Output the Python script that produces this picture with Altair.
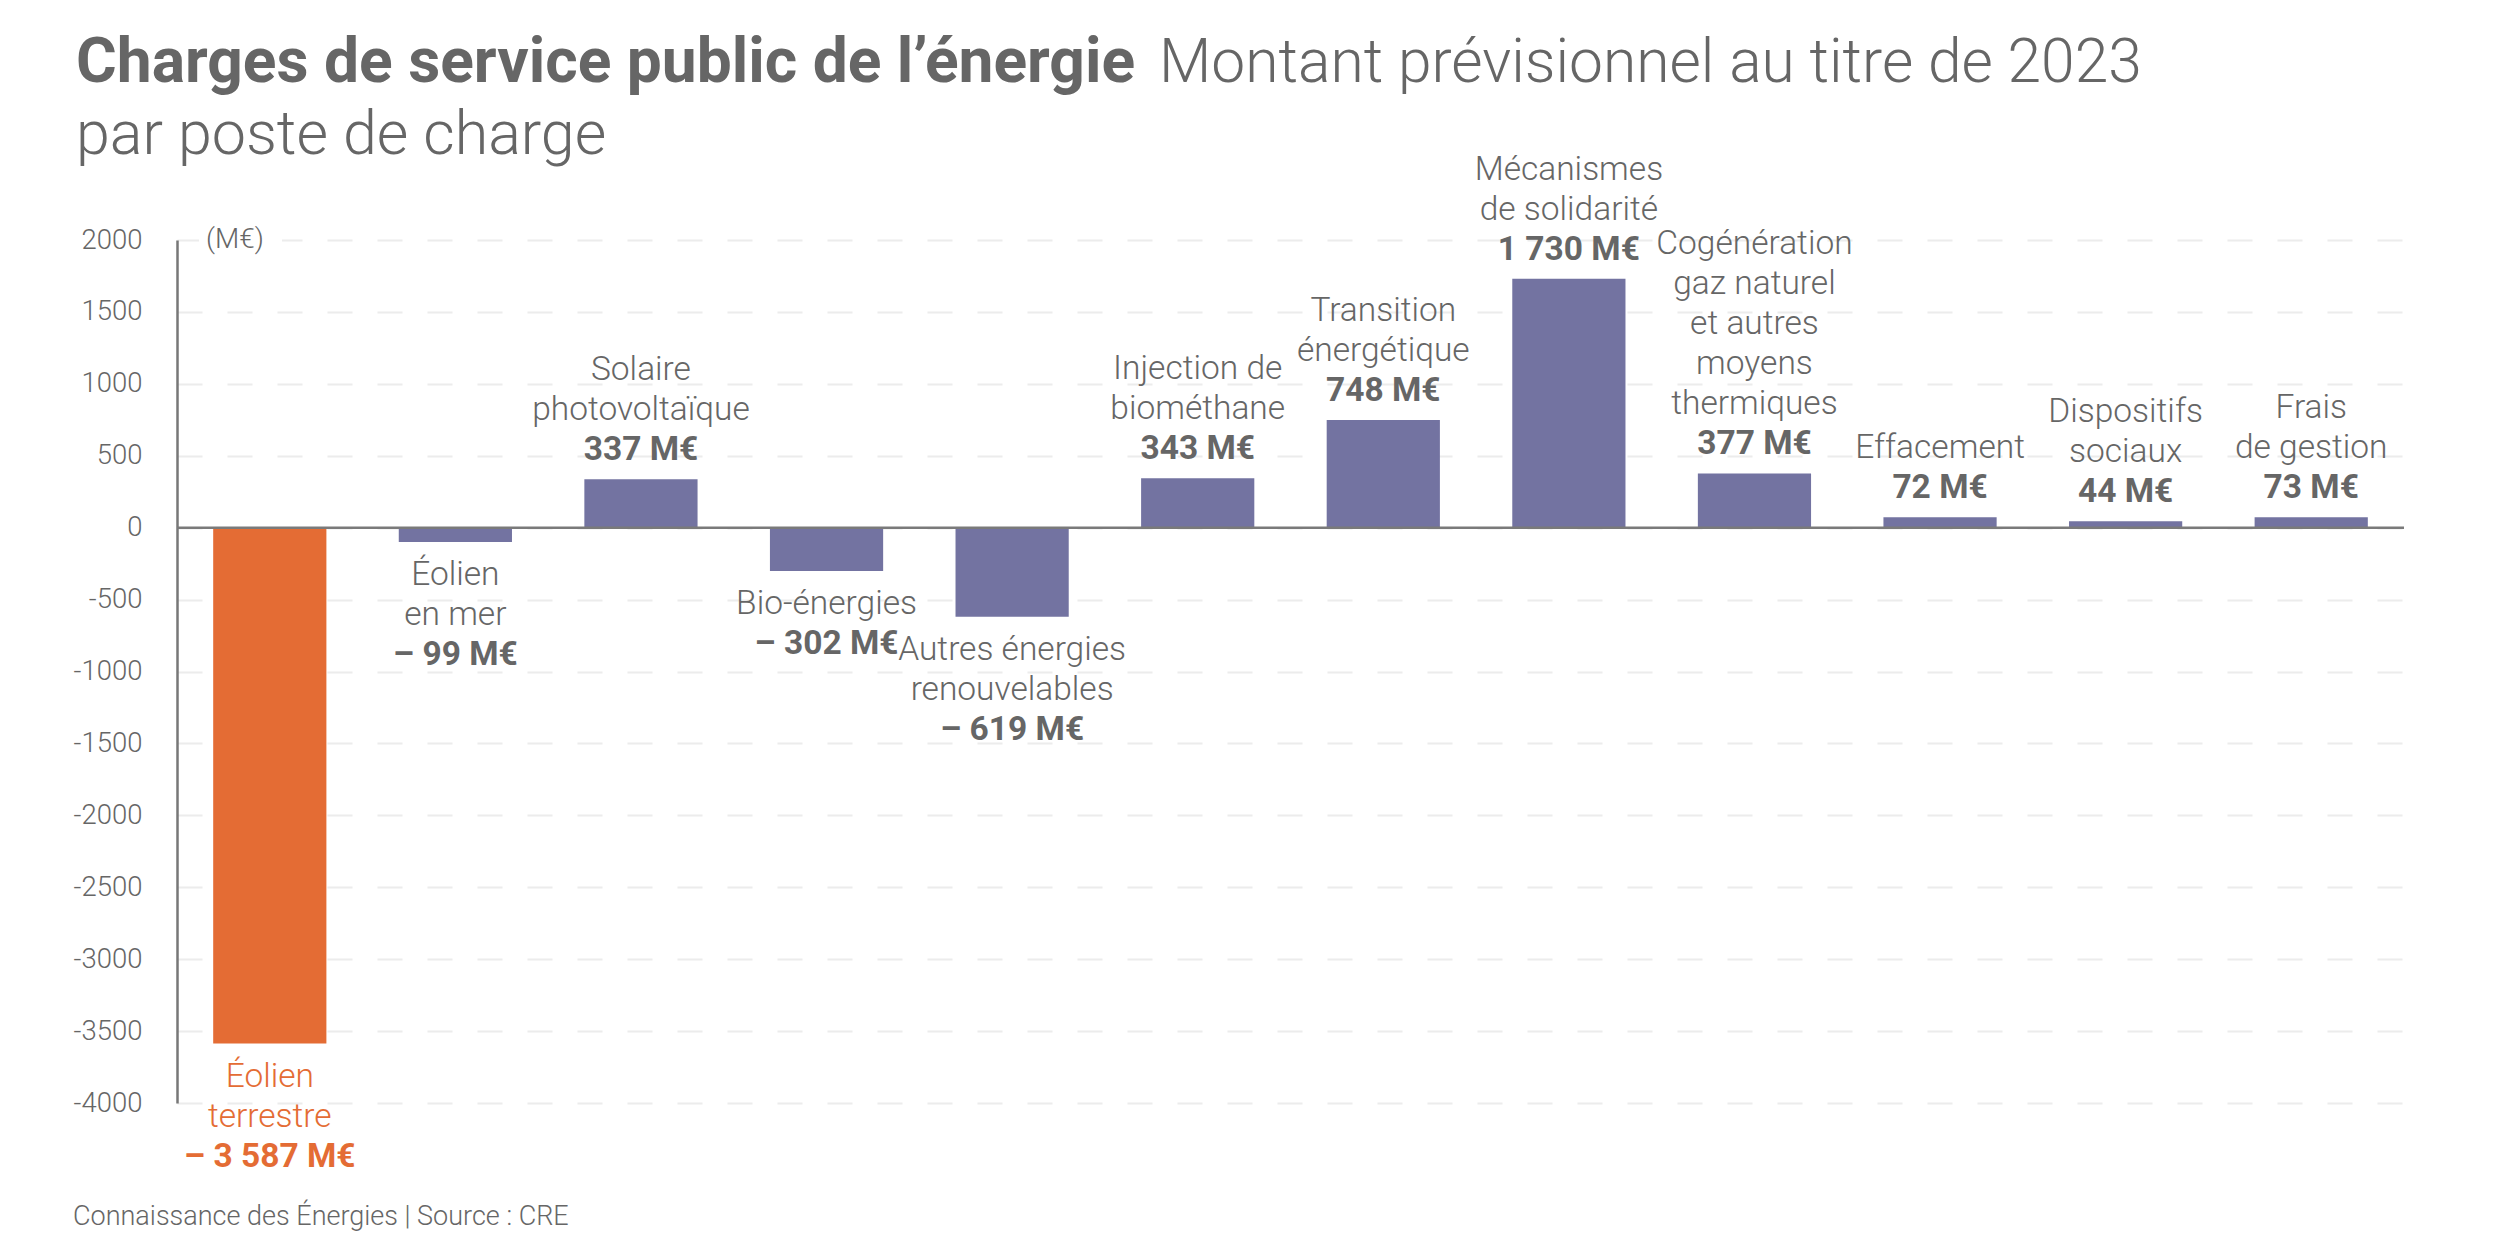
import altair as alt
import pandas as pd

# ---- data ----
categories = [
    "Éolien terrestre", "Éolien en mer", "Solaire photovoltaïque", "Bio-énergies",
    "Autres énergies renouvelables", "Injection de biométhane", "Transition énergétique",
    "Mécanismes de solidarité", "Cogénération gaz naturel et autres moyens thermiques",
    "Effacement", "Dispositifs sociaux", "Frais de gestion",
]
label_lines = [
    "Éolien\nterrestre", "Éolien\nen mer", "Solaire\nphotovoltaïque", "Bio-énergies",
    "Autres énergies\nrenouvelables", "Injection de\nbiométhane", "Transition\nénergétique",
    "Mécanismes\nde solidarité", "Cogénération\ngaz naturel\net autres\nmoyens\nthermiques",
    "Effacement", "Dispositifs\nsociaux", "Frais\nde gestion",
]
values = [-3587, -99, 337, -302, -619, 343, 748, 1730, 377, 72, 44, 73]
value_labels = [
    "– 3 587 M€", "– 99 M€", "337 M€", "– 302 M€", "– 619 M€", "343 M€",
    "748 M€", "1 730 M€", "377 M€", "72 M€", "44 M€", "73 M€",
]
groups = ["highlight"] + ["other"] * 11
y_ticks = [-4000, -3500, -3000, -2500, -2000, -1500, -1000, -500, 0, 500, 1000, 1500, 2000]

title_bold = "Charges de service public de l’énergie"
title_light = "Montant prévisionnel au titre de 2023"
title_line2 = "par poste de charge"
unit_text = "(M€)"
footer_text = "Connaissance des Énergies | Source : CRE"

nlines = [s.count("\n") + 1 for s in label_lines]
df = pd.DataFrame({
    "cat": categories,
    "label": label_lines,
    "value": values,
    "vlabel": value_labels,
    "group": groups,
    "nlines": nlines,
})

ORANGE = "#e46c34"
PURPLE = "#7373a1"
GRAY = "#666666"
FONT = "Roboto"
LIGHT = "Roboto Light, Roboto"
LH = 40
FS = 33.5

x_enc = alt.X("cat:N", sort=categories, axis=None,
              scale=alt.Scale(paddingInner=0.39, paddingOuter=0.195))
y_enc = alt.Y("value:Q",
              scale=alt.Scale(domain=[-4000, 2000], nice=False, zero=False),
              axis=alt.Axis(values=y_ticks, title=None, ticks=False,
                            labelExpr="'' + datum.value",
                            labelFont=LIGHT, labelFontSize=27.5, labelFontWeight=300,
                            labelColor=GRAY, labelPadding=35,
                            domainColor="#777777", domainWidth=2.5,
                            grid=True, gridColor="#ececec", gridWidth=2,
                            gridDash=[25, 25]))
col_cond = alt.condition("datum.group == 'highlight'", alt.value(ORANGE), alt.value(GRAY))

base = alt.Chart(df)

bars = base.mark_bar().encode(
    x=x_enc, y=y_enc,
    color=alt.condition("datum.group == 'highlight'", alt.value(ORANGE), alt.value(PURPLE)),
)

zero = alt.Chart(pd.DataFrame({"z": [0]})).mark_rule(color="#7a7a7a", strokeWidth=2.5).encode(
    y=alt.Y("z:Q")
)

name_style = dict(font=LIGHT, fontSize=FS, fontWeight=300, lineBreak="\n",
                  lineHeight=LH, align="center")
val_style = dict(font=FONT, fontSize=FS, fontWeight="bold", align="center")

layers = [bars, zero]

# positive bars: value right above the bar, name lines above the value
layers.append(base.transform_filter("datum.value > 0").mark_text(
    baseline="bottom", dy=-12, **val_style
).encode(x=x_enc, y="value:Q", text="vlabel:N", color=col_cond))

for n in sorted(set(nlines)):
    layers.append(base.transform_filter(f"datum.value > 0 && datum.nlines == {n}").mark_text(
        baseline="bottom", dy=-52 - (n - 1) * LH, **name_style
    ).encode(x=x_enc, y="value:Q", text="label:N", color=col_cond))
    # negative bars: name lines below the bar, value after them
    layers.append(base.transform_filter(f"datum.value < 0 && datum.nlines == {n}").mark_text(
        baseline="top", dy=17 + n * LH, **val_style
    ).encode(x=x_enc, y="value:Q", text="vlabel:N", color=col_cond))

layers.append(base.transform_filter("datum.value < 0").mark_text(
    baseline="top", dy=17, **name_style
).encode(x=x_enc, y="value:Q", text="label:N", color=col_cond))

one = pd.DataFrame({"a": [0]})

layers.append(alt.Chart(one).mark_rect(color="white").encode(
    x=alt.value(22), x2=alt.value(105), y=alt.value(-16), y2=alt.value(16)
))
layers.append(alt.Chart(one).mark_text(
    text=unit_text, font=LIGHT, fontSize=28, fontWeight=300, color=GRAY,
    align="left", baseline="middle"
).encode(x=alt.value(29), y=alt.value(0)))

layers.append(alt.Chart(one).mark_text(
    text=title_bold, font=FONT, fontSize=62.3, fontWeight="bold", color=GRAY,
    align="left", baseline="alphabetic"
).encode(x=alt.value(-101), y=alt.value(-158)))

layers.append(alt.Chart(one).mark_text(
    text=title_light, font=LIGHT, fontSize=60.5, fontWeight=300, color=GRAY,
    align="left", baseline="alphabetic"
).encode(x=alt.value(982), y=alt.value(-158)))

layers.append(alt.Chart(one).mark_text(
    text=title_line2, font=LIGHT, fontSize=61, fontWeight=300, color=GRAY,
    align="left", baseline="alphabetic"
).encode(x=alt.value(-101), y=alt.value(-86)))

layers.append(alt.Chart(one).mark_text(
    text=footer_text, font=LIGHT, fontSize=27, fontWeight=300, color=GRAY,
    align="left", baseline="alphabetic"
).encode(x=alt.value(-104), y=alt.value(985)))

chart = alt.layer(*layers).properties(
    width=2227, height=863,
    background="white",
    autosize=alt.AutoSizeParams(type="none"),
    padding={"left": 169, "top": 232, "right": 80, "bottom": 130},
).configure_view(stroke=None)

chart.save("out.html", embed_options={"renderer": "svg", "actions": False})
